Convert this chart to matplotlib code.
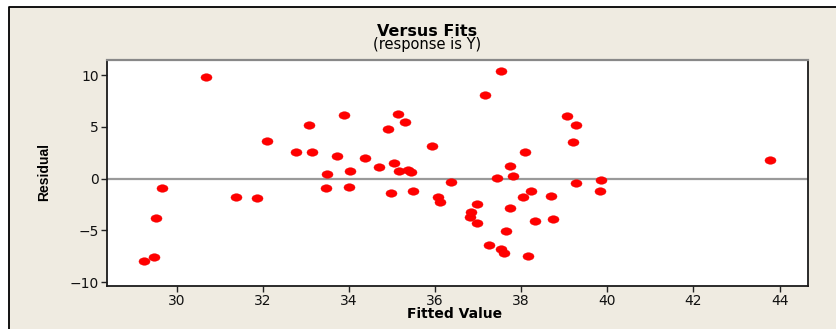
import numpy as np
import matplotlib
matplotlib.use('Agg')
import matplotlib.pyplot as plt
from matplotlib.patches import Rectangle
from matplotlib.lines import Line2D

ajustados = [29.24, 29.48, 29.52, 29.66, 30.67, 31.38, 31.86, 32.09, 32.77, 33.08,
             33.14, 33.46, 33.49, 33.72, 33.89, 33.99, 34.02, 34.37, 34.70, 34.90,
             34.97, 35.04, 35.14, 35.17, 35.31, 35.37, 35.44, 35.48, 35.92, 36.06,
             36.12, 36.36, 36.80, 36.84, 36.97, 36.97, 37.15, 37.24, 37.44, 37.52,
             37.54, 37.59, 37.65, 37.74, 37.75, 37.82, 38.03, 38.08, 38.15, 38.23,
             38.32, 38.70, 38.73, 39.07, 39.21, 39.28, 39.28, 39.82, 39.85, 43.78]
residuos = [-7.93, -7.60, -3.77, -0.90, 9.80, -1.77, -1.87, 3.62, 2.61, 5.16,
            2.61, -0.90, 0.48, 2.22, 6.13, -0.80, 0.74, 1.97, 1.10, 4.78,
            -1.38, 1.55, 6.23, 0.77, 5.48, 0.81, 0.65, -1.19, 3.13, -1.77,
            -2.25, -0.32, -3.74, -3.19, -2.45, -4.26, 8.09, -6.38, 0.10, 10.44,
            -6.80, -7.16, -5.06, 1.23, -2.87, 0.26, -1.77, 2.61, -7.51, -1.16,
            -4.06, -1.70, -3.93, 6.06, 3.52, 5.22, -0.39, -1.22, -0.16, 1.78]
xticks = [30, 32, 34, 36, 38, 40, 42, 44]
yticks = [-10, -5, 0, 5, 10]

W, H = 836, 329
fig = plt.figure(figsize=(W / 100, H / 100), dpi=100)
fig.patch.set_facecolor('white')

# fondo beige, borde solo arriba e izquierda
x0, y0 = 9 / W, 1 - 7 / H
fig.add_artist(Rectangle((x0, 0), 1 - x0, y0, transform=fig.transFigure,
                         facecolor='#EFEBE1', edgecolor='none', zorder=-10))
fig.add_artist(Line2D([x0, x0, 1], [0, y0, y0], transform=fig.transFigure,
                      color='black', linewidth=1.3, zorder=-9))

ax = fig.add_axes([107 / W, 1 - 286 / H, (808 - 107) / W, (286 - 60) / H])
ax.set_facecolor('white')

# marcador eliptico
t = np.linspace(0, 2 * np.pi, 40)
elipse = np.column_stack([np.cos(t), 0.68 * np.sin(t)])

ax.axhline(0, color='#9a9a9a', linewidth=1.6, zorder=1)
ax.plot(ajustados, residuos, linestyle='None', marker=elipse, markersize=8,
        color='#ff0000', markeredgecolor='#ee0000', markeredgewidth=0.3, zorder=3)

ax.set_xlim(28.38, 44.66)
ax.set_ylim(-10.38, 11.48)
ax.set_xticks(xticks)
ax.set_yticks(yticks)
ax.tick_params(direction='out', length=4, width=1, colors='#222222',
               labelsize=10, pad=2)
for lbl in ax.get_xticklabels() + ax.get_yticklabels():
    lbl.set_color('#111111')

for lado in ['left', 'bottom', 'right']:
    ax.spines[lado].set_color('#1a1a1a')
    ax.spines[lado].set_linewidth(1.3)
ax.spines['top'].set_color('#888888')
ax.spines['top'].set_linewidth(1.6)

fig.text(427 / W, 1 - 31 / H, 'Versus Fits', ha='center', va='center',
         fontsize=11.5, fontweight='bold', color='black')
fig.text(427 / W, 1 - 45 / H, '(response is Y)', ha='center', va='center',
         fontsize=10.5, color='black')
fig.text(455 / W, 1 - 314 / H, 'Fitted Value', ha='center', va='center',
         fontsize=10, fontweight='bold', color='black')
fig.text(44 / W, 1 - 172 / H, 'Residual', ha='center', va='center', rotation=90,
         fontsize=10, fontweight='bold', color='black',
         family=['Liberation Sans Narrow', 'Liberation Sans', 'DejaVu Sans'])

fig.savefig('out.png', dpi=100)
